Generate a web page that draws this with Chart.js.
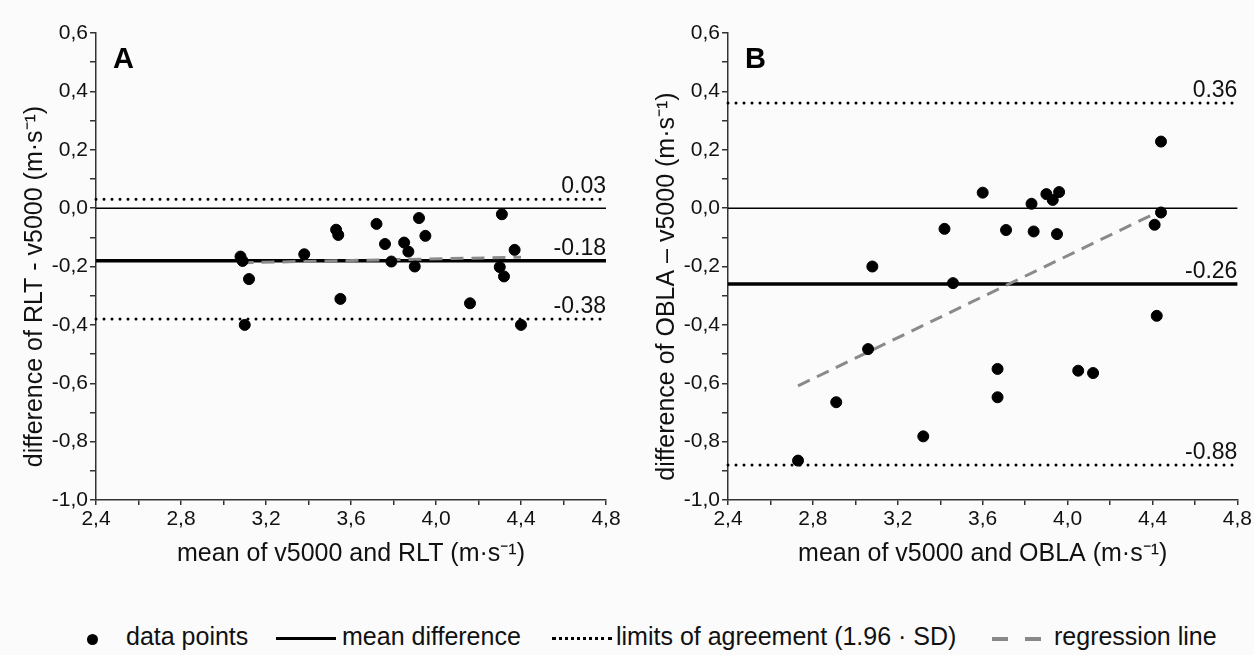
<!DOCTYPE html>
<html>
<head>
<meta charset="utf-8">
<script src="https://cdn.jsdelivr.net/npm/chart.js@4.4.1/dist/chart.umd.min.js"></script>
<style>
  body { margin: 0; background: #fbfbfb; width: 1254px; height: 655px; overflow: hidden;
         font-family: "Liberation Sans", Arial, sans-serif; }
  #panelA { position: absolute; left: 0; top: 0; }
  #panelB { position: absolute; left: 632px; top: 0; }
  #legend { position: absolute; left: 0; top: 622px; width: 1254px; height: 29px;
            font-size: 25px; line-height: 29px; color: #111; }
  #legend span { position: absolute; top: 0; white-space: nowrap; }
  #legend i { position: absolute; display: block; }
  .dot { left: 87px; top: 12px; width: 11px; height: 11px; border-radius: 50%; background: #000; }
  .solid { left: 276px; top: 15px; width: 60px; border-top: 3px solid #000; }
  .dotted { left: 552px; top: 15px; width: 60px; border-top: 3px dotted #000; }
  .dash1 { left: 992px; top: 15px; width: 16px; height: 4px; background: #888; }
  .dash2 { left: 1025px; top: 15px; width: 16px; height: 4px; background: #888; }
</style>
</head>
<body>
<canvas id="panelA" width="632" height="590"></canvas>
<canvas id="panelB" width="622" height="590"></canvas>
<div id="legend">
  <i class="dot"></i><span style="left:126px">data points</span>
  <i class="solid"></i><span style="left:342px">mean difference</span>
  <i class="dotted"></i><span style="left:616px">limits of agreement (1.96 · SD)</span>
  <i class="dash1"></i><i class="dash2"></i><span style="left:1054px">regression line</span>
</div>
<script>
// axis ranges
const xRange = [2.4, 4.8];
const yRange = [-1.0, 0.6];

// panel A: RLT vs v5000
const meanA = [3.08, 3.09, 3.12, 3.10, 3.38, 3.53, 3.54, 3.55, 3.72, 3.76, 3.79, 3.85, 3.87,
               3.90, 3.92, 3.95, 4.16, 4.31, 4.30, 4.32, 4.37, 4.40];
const diffA = [-0.166, -0.181, -0.243, -0.400, -0.158, -0.074, -0.092, -0.311, -0.054, -0.123, -0.183, -0.118, -0.149,
               -0.200, -0.034, -0.095, -0.326, -0.021, -0.202, -0.234, -0.143, -0.400];
const limitsA = [0.03, -0.18, -0.38];   // upper, mean, lower
const regA_x = [3.08, 4.40];
const regA_y = [-0.187, -0.168];

// panel B: OBLA vs v5000
const meanB = [3.08, 3.60, 3.42, 3.46, 3.71, 3.83, 3.84, 3.90, 3.93, 3.96, 3.95, 4.44, 4.44,
               4.41, 4.42, 3.06, 2.91, 2.73, 3.32, 3.67, 3.67, 4.05, 4.12];
const diffB = [-0.200, 0.053, -0.071, -0.257, -0.075, 0.015, -0.080, 0.048, 0.028, 0.055, -0.089, 0.228, -0.015,
               -0.057, -0.369, -0.483, -0.665, -0.865, -0.782, -0.551, -0.648, -0.557, -0.565];
const limitsB = [0.36, -0.26, -0.88];
const regB_x = [2.73, 4.435];
const regB_y = [-0.609, -0.010];

const FONT = '"Liberation Sans", Arial, sans-serif';

// value labels on the reference lines, panel letter and axis titles
const refLabels = {
  id: 'refLabels',
  afterDraw(chart, args, opts) {
    const { ctx, chartArea, scales } = chart;
    ctx.save();
    ctx.fillStyle = '#111';
    ctx.font = '23px ' + FONT;
    ctx.textAlign = 'right';
    ctx.textBaseline = 'alphabetic';
    opts.values.forEach(v => {
      const y = scales.y.getPixelForValue(v);
      ctx.fillText(v.toFixed(2), chartArea.right, y - 6);
    });

    ctx.font = 'bold 29px ' + FONT;
    ctx.textAlign = 'left';
    ctx.fillStyle = '#000';
    ctx.fillText(opts.letter, chartArea.left + 17, chartArea.top + 35);

    ctx.fillStyle = '#111';
    ctx.font = '25px ' + FONT;
    ctx.textAlign = 'center';
    ctx.fillText(opts.xTitle, (chartArea.left + chartArea.right) / 2, chartArea.bottom + 61);

    ctx.translate(chartArea.left - 54, (chartArea.top + chartArea.bottom) / 2 + 20);
    ctx.rotate(-Math.PI / 2);
    ctx.fillText(opts.yTitle, 0, 0);
    ctx.restore();
  }
};

function hLine(v, width, dash, cap) {
  return {
    type: 'line',
    data: [{ x: xRange[0], y: v }, { x: xRange[1], y: v }],
    borderColor: '#000',
    borderWidth: width,
    borderDash: dash,
    borderCapStyle: cap,
    pointRadius: 0,
    showLine: true,
    clip: false
  };
}

function makeChart(id, p) {
  const pts = p.xs.map((x, i) => ({ x: x, y: p.ys[i] }));
  const reg = p.regX.map((x, i) => ({ x: x, y: p.regY[i] }));
  return new Chart(document.getElementById(id), {
    type: 'scatter',
    data: {
      datasets: [
        { data: pts, backgroundColor: '#000', borderColor: '#000', pointRadius: 5.5, pointHoverRadius: 5.5 },
        { type: 'line', data: reg, borderColor: '#8a8a8a', borderWidth: 3, borderDash: [13, 8],
          pointRadius: 0, showLine: true },
        hLine(p.limits[1], 3.5, [], 'butt'),
        hLine(0, 1.5, [], 'butt'),
        hLine(p.limits[0], 3, [0, 8], 'round'),
        hLine(p.limits[2], 3, [0, 8], 'round')
      ]
    },
    options: {
      responsive: false,
      animation: false,
      layout: { padding: { top: 33, right: p.rightPad, left: 0, bottom: 0 } },
      plugins: {
        legend: { display: false },
        tooltip: { enabled: false },
        refLabels: { values: p.limits, letter: p.letter, xTitle: p.xTitle, yTitle: p.yTitle }
      },
      scales: {
        x: {
          type: 'linear', min: xRange[0], max: xRange[1],
          afterFit(scale) { scale.height = 90; },
          border: { display: true, color: '#333', width: 1.5 },
          grid: { drawOnChartArea: false, drawTicks: true, tickLength: 5, color: '#333', lineWidth: 1.5 },
          ticks: {
            stepSize: 0.2, autoSkip: false, maxRotation: 0, padding: 2, color: '#111',
            font: { family: FONT, size: 21 },
            callback: v => (Math.round(v * 10) % 4 === 0 ? v.toFixed(1).replace('.', ',') : '')
          }
        },
        y: {
          type: 'linear', min: yRange[0], max: yRange[1],
          afterFit(scale) { scale.width = 96; },
          border: { display: true, color: '#333', width: 1.5 },
          grid: { drawOnChartArea: false, drawTicks: true, tickLength: 6, color: '#333', lineWidth: 1.5 },
          ticks: {
            stepSize: 0.1, autoSkip: false, padding: 2, color: '#111',
            font: { family: FONT, size: 21 },
            callback: v => (Math.round(v * 10) % 2 === 0 ? v.toFixed(1).replace('.', ',') : '')
          }
        }
      }
    },
    plugins: [refLabels]
  });
}

makeChart('panelA', {
  xs: meanA, ys: diffA, limits: limitsA, regX: regA_x, regY: regA_y, letter: 'A', rightPad: 26,
  xTitle: 'mean of v5000 and RLT (m·s⁻¹)', yTitle: 'difference of RLT - v5000 (m·s⁻¹)'
});
makeChart('panelB', {
  xs: meanB, ys: diffB, limits: limitsB, regX: regB_x, regY: regB_y, letter: 'B', rightPad: 16,
  xTitle: 'mean of v5000 and OBLA (m·s⁻¹)', yTitle: 'difference of OBLA – v5000 (m·s⁻¹)'
});
</script>
</body>
</html>
